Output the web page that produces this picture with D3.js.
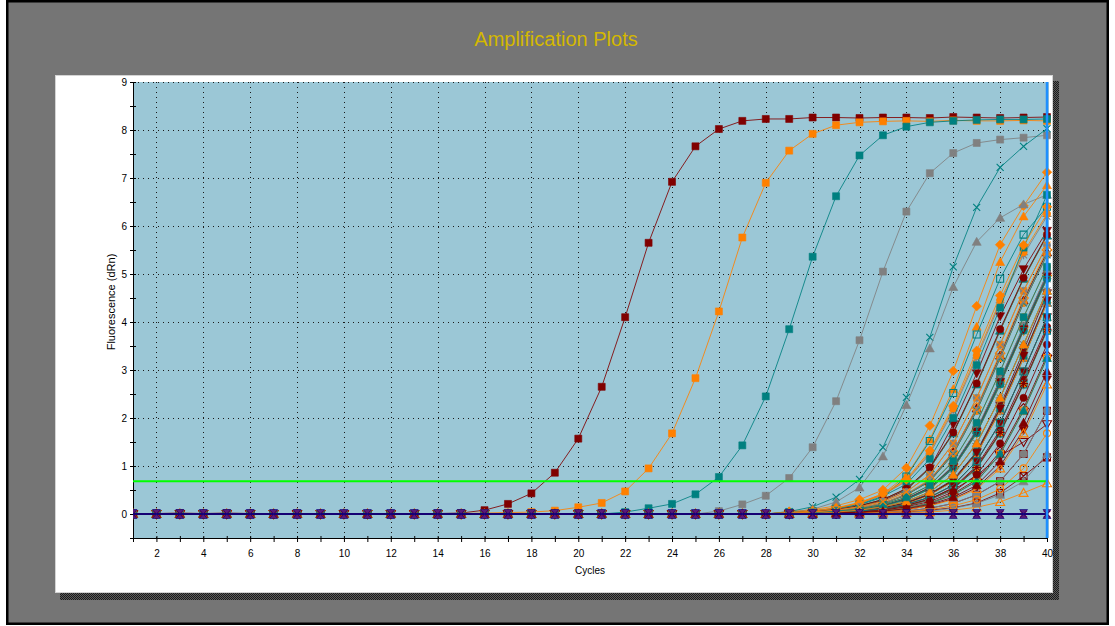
<!DOCTYPE html>
<html>
<head>
<meta charset="utf-8">
<script src="https://cdn.jsdelivr.net/npm/d3@7"></script>
<style>
html, body { margin: 0; padding: 0; background: #ffffff; }
svg { display: block; font-family: "Liberation Sans", Arial, sans-serif; }
</style>
</head>
<body>
<svg id="chart" width="1115" height="626"></svg>
<script>
// ---- data -------------------------------------------------------------
const cycles = [1,2,3,4,5,6,7,8,9,10,11,12,13,14,15,16,17,18,19,20,21,22,23,24,25,26,27,28,29,30,31,32,33,34,35,36,37,38,39,40];
const yTickValues = [0,1,2,3,4,5,6,7,8,9];
const xLabelCycles = [2,4,6,8,10,12,14,16,18,20,22,24,26,28,30,32,34,36,38,40];
const thresholdValue = 0.68;

// fluorescence (dRn) per cycle, one row per well
const darkRedWells = [
  [0.01,0.01,0.02,0.01,0.02,0.01,0,0.01,0,0,-0.01,0,0,0.01,0.02,0.08,0.21,0.43,0.86,1.57,2.65,4.1,5.65,6.92,7.66,8.02,8.19,8.23,8.23,8.26,8.26,8.25,8.26,8.26,8.25,8.27,8.26,8.25,8.26,8.27],
  [0,0,0,0,0,0,0,0,0,0,0,0,0,0,0,0,0,0,0,0,0,0,0,0,0,0,0,0,0.02,0.04,0.08,0.15,0.28,0.5,0.95,1.87,2.93,4.12,5.1,5.9],
  [0,0,0,0,0,0,0,0,0,0,0,0,0,0,0,0,0,0,0,0,0,0,0,0,0,0,0,0,0,0.02,0.05,0.09,0.17,0.3,0.55,1.0,1.75,2.8,3.9,5.0],
  [0,0,0,0,0,0,0,0,0,0,0,0,0,0,0,0,0,0,0,0,0,0,0,0,0,0,0,0,0,0.01,0.03,0.06,0.12,0.24,0.42,0.72,1.3,2.25,3.4,4.6],
  [0,0,0,0,0,0,0,0,0,0,0,0,0,0,0,0,0,0,0,0,0,0,0,0,0,0,0,0,0,0,0.02,0.05,0.09,0.18,0.31,0.55,1.0,1.75,2.8,3.9],
  [0,0,0,0,0,0,0,0,0,0,0,0,0,0,0,0,0,0,0,0,0,0,0,0,0,0,0,0,0.01,0.03,0.06,0.12,0.22,0.4,0.7,1.3,2.2,3.3,4.45,5.45],
  [0,0,0,0,0,0,0,0,0,0,0,0,0,0,0,0,0,0,0,0,0,0,0,0,0,0,0,0,0,0,0.01,0.03,0.06,0.12,0.23,0.42,0.72,1.3,2.2,3.3],
  [0,0,0,0,0,0,0,0,0,0,0,0,0,0,0,0,0,0,0,0,0,0,0,0,0,0,0,0,0,0,0,0.02,0.05,0.09,0.18,0.32,0.55,1.0,1.75,2.8],
  [0,0,0,0,0,0,0,0,0,0,0,0,0,0,0,0,0,0,0,0,0,0,0,0,0,0,0,0,0,0,0.01,0.03,0.08,0.16,0.3,0.5,0.8,1.21,1.5,1.87],
  [0,0,0,0,0,0,0,0,0,0,0,0,0,0,0,0,0,0,0,0,0,0,0,0,0,0,0,0,0,0,0,0.01,0.02,0.04,0.08,0.13,0.23,0.44,0.79,1.18],
  [0,0,0,0,0,0,0,0,0,0,0,0,0,0,0,0,0,0,0,0,0,0,0,0,0,0,0,0,0,0.01,0.03,0.07,0.13,0.23,0.41,0.7,1.28,2.2,3.3,4.45],
  [0,0,0,0,0,0,0,0,0,0,0,0,0,0,0,0,0,0,0,0,0,0,0,0,0,0,0,0,0,0,0,0.01,0.03,0.06,0.12,0.22,0.4,0.68,1.25,2.15],
  [0,0,0,0,0,0,0,0,0,0,0,0,0,0,0,0,0,0,0,0,0,0,0,0,0,0,0,0,0,0.02,0.05,0.1,0.18,0.32,0.55,0.98,1.72,2.75,3.85,4.95],
  [0,0,0,0,0,0,0,0,0,0,0,0,0,0,0,0,0,0,0,0,0,0,0,0,0,0,0,0,0,0,0.02,0.05,0.1,0.18,0.31,0.54,0.97,1.7,2.72,3.85],
  [0,0,0,0,0,0,0,0,0,0,0,0,0,0,0,0,0,0,0,0,0,0,0,0,0,0,0,0,0.02,0.05,0.09,0.17,0.3,0.53,0.97,1.7,2.72,3.85,4.92,5.82],
  [0,0,0,0,0,0,0,0,0,0,0,0,0,0,0,0,0,0,0,0,0,0,0,0,0,0,0,0,0,0.01,0.03,0.06,0.11,0.2,0.35,0.6,1.1,1.9,2.97,4.1],
  [0,0,0,0,0,0,0,0,0,0,0,0,0,0,0,0,0,0,0,0,0,0,0,0,0,0,0,0,0,0,0.02,0.04,0.08,0.15,0.26,0.46,0.82,1.47,2.42,3.53],
  [0,0,0,0,0,0,0,0,0,0,0,0,0,0,0,0,0,0,0,0,0,0,0,0,0,0,0,0,0,0,0.01,0.03,0.06,0.11,0.2,0.35,0.6,1.1,1.9,2.97]
];
const orangeWells = [
  [0,0,0.01,0,0.01,0,-0.01,0,0,0,0,0,0,0,0.01,0.02,0.03,0.04,0.07,0.14,0.23,0.47,0.95,1.68,2.83,4.22,5.76,6.9,7.57,7.92,8.1,8.16,8.18,8.19,8.18,8.2,8.19,8.19,8.2,8.19],
  [0,0,0,0,0,0,0,0,0,0,0,0,0,0,0,0,0,0,0,0,0,0,0,0,0,0,0,0,0.05,0.09,0.17,0.3,0.5,0.96,1.84,2.98,4.33,5.61,6.42,7.12],
  [0,0,0,0,0,0,0,0,0,0,0,0,0,0,0,0,0,0,0,0,0,0,0,0,0,0,0,0,0.04,0.07,0.13,0.24,0.42,0.8,1.55,2.6,3.9,5.25,6.2,6.85],
  [0,0,0,0,0,0,0,0,0,0,0,0,0,0,0,0,0,0,0,0,0,0,0,0,0,0,0,0,0.03,0.06,0.12,0.22,0.4,0.7,1.28,2.2,3.3,4.45,5.45,6.25],
  [0,0,0,0,0,0,0,0,0,0,0,0,0,0,0,0,0,0,0,0,0,0,0,0,0,0,0,0,0,0,0,0,0.01,0.02,0.04,0.08,0.14,0.25,0.44,0.64],
  [0,0,0,0,0,0,0,0,0,0,0,0,0,0,0,0,0,0,0,0,0,0,0,0,0,0,0,0,0.02,0.05,0.09,0.17,0.3,0.52,0.95,1.68,2.7,3.82,4.9,5.8],
  [0,0,0,0,0,0,0,0,0,0,0,0,0,0,0,0,0,0,0,0,0,0,0,0,0,0,0,0,0.01,0.03,0.06,0.12,0.22,0.4,0.68,1.25,2.15,3.25,4.4,5.4],
  [0,0,0,0,0,0,0,0,0,0,0,0,0,0,0,0,0,0,0,0,0,0,0,0,0,0,0,0,0.01,0.03,0.06,0.13,0.23,0.42,0.72,1.3,2.22,3.35,4.5,5.5],
  [0,0,0,0,0,0,0,0,0,0,0,0,0,0,0,0,0,0,0,0,0,0,0,0,0,0,0,0,0,0.02,0.05,0.09,0.17,0.3,0.52,0.95,1.68,2.7,3.82,4.9],
  [0,0,0,0,0,0,0,0,0,0,0,0,0,0,0,0,0,0,0,0,0,0,0,0,0,0,0,0,0,0.01,0.03,0.06,0.12,0.22,0.4,0.68,1.25,2.15,3.25,4.4],
  [0,0,0,0,0,0,0,0,0,0,0,0,0,0,0,0,0,0,0,0,0,0,0,0,0,0,0,0,0,0,0.02,0.05,0.09,0.17,0.3,0.52,0.95,1.68,2.7,3.82],
  [0,0,0,0,0,0,0,0,0,0,0,0,0,0,0,0,0,0,0,0,0,0,0,0,0,0,0,0,0,0,0.01,0.03,0.06,0.12,0.22,0.4,0.68,1.25,2.15,3.25],
  [0,0,0,0,0,0,0,0,0,0,0,0,0,0,0,0,0,0,0,0,0,0,0,0,0,0,0,0,0,0,0,0.02,0.05,0.09,0.17,0.3,0.52,0.95,1.68,2.7],
  [0,0,0,0,0,0,0,0,0,0,0,0,0,0,0,0,0,0,0,0,0,0,0,0,0,0,0,0,0,0,0,0,0.02,0.05,0.09,0.17,0.3,0.52,0.95,1.68],
  [0,0,0,0,0,0,0,0,0,0,0,0,0,0,0,0,0,0,0,0,0,0,0,0,0,0,0,0,0.03,0.06,0.12,0.23,0.42,0.72,1.32,2.25,3.4,4.55,5.6,6.4],
  [0,0,0,0,0,0,0,0,0,0,0,0,0,0,0,0,0,0,0,0,0,0,0,0,0,0,0,0,0.01,0.03,0.06,0.11,0.2,0.35,0.6,1.1,1.9,2.97,4.1,5.15],
  [0,0,0,0,0,0,0,0,0,0,0,0,0,0,0,0,0,0,0,0,0,0,0,0,0,0,0,0,0,0.02,0.04,0.08,0.15,0.26,0.46,0.82,1.47,2.42,3.53,4.65],
  [0,0,0,0,0,0,0,0,0,0,0,0,0,0,0,0,0,0,0,0,0,0,0,0,0,0,0,0,0.02,0.04,0.08,0.15,0.26,0.46,0.82,1.47,2.42,3.53,4.65,5.6]
];
const tealWells = [
  [0,0,0,0,0,0,0,0,0,0,0,0,0,0,0,0,0,0,0,0,0,0.04,0.12,0.21,0.41,0.77,1.43,2.45,3.85,5.36,6.62,7.47,7.89,8.07,8.16,8.19,8.21,8.22,8.22,8.23],
  [0,0,0,0,0,0,0,0,0,0,0,0,0,0,0,0,0,0,0,0,0,0,0,0,0,0,0,0,0.05,0.15,0.35,0.72,1.39,2.43,3.68,5.15,6.39,7.22,7.66,8.03],
  [0,0,0,0,0,0,0,0,0,0,0,0,0,0,0,0,0,0,0,0,0,0,0,0,0,0,0,0,0.03,0.05,0.1,0.19,0.35,0.78,1.52,2.52,3.74,4.9,5.82,6.4],
  [0,0,0,0,0,0,0,0,0,0,0,0,0,0,0,0,0,0,0,0,0,0,0,0,0,0,0,0,0.03,0.06,0.11,0.2,0.37,0.62,1.15,2.0,3.1,4.3,5.55,6.65],
  [0,0,0,0,0,0,0,0,0,0,0,0,0,0,0,0,0,0,0,0,0,0,0,0,0,0,0,0,0.01,0.03,0.06,0.12,0.22,0.4,0.7,1.28,2.2,3.3,4.45,5.45],
  [0,0,0,0,0,0,0,0,0,0,0,0,0,0,0,0,0,0,0,0,0,0,0,0,0,0,0,0,0,0.02,0.05,0.09,0.17,0.3,0.53,0.96,1.7,2.72,3.85,4.92],
  [0,0,0,0,0,0,0,0,0,0,0,0,0,0,0,0,0,0,0,0,0,0,0,0,0,0,0,0,0.01,0.03,0.06,0.12,0.22,0.4,0.68,1.25,2.15,3.25,4.4,5.4],
  [0,0,0,0,0,0,0,0,0,0,0,0,0,0,0,0,0,0,0,0,0,0,0,0,0,0,0,0,0,0.01,0.03,0.06,0.12,0.22,0.4,0.68,1.25,2.15,3.25,4.4],
  [0,0,0,0,0,0,0,0,0,0,0,0,0,0,0,0,0,0,0,0,0,0,0,0,0,0,0,0,0,0.02,0.05,0.09,0.17,0.3,0.52,0.95,1.68,2.7,3.82,4.9],
  [0,0,0,0,0,0,0,0,0,0,0,0,0,0,0,0,0,0,0,0,0,0,0,0,0,0,0,0,0,0.01,0.03,0.06,0.12,0.23,0.42,0.7,1.3,2.2,3.3,4.45],
  [0,0,0,0,0,0,0,0,0,0,0,0,0,0,0,0,0,0,0,0,0,0,0,0,0,0,0,0,0,0,0.02,0.05,0.09,0.17,0.3,0.52,0.95,1.68,2.7,3.82],
  [0,0,0,0,0,0,0,0,0,0,0,0,0,0,0,0,0,0,0,0,0,0,0,0,0,0,0,0,0,0,0.01,0.03,0.06,0.12,0.22,0.4,0.68,1.25,2.15,3.25],
  [0,0,0,0,0,0,0,0,0,0,0,0,0,0,0,0,0,0,0,0,0,0,0,0,0,0,0,0,0.02,0.05,0.09,0.17,0.3,0.52,0.95,1.68,2.7,3.82,4.9,5.8],
  [0,0,0,0,0,0,0,0,0,0,0,0,0,0,0,0,0,0,0,0,0,0,0,0,0,0,0,0,0,0.02,0.05,0.09,0.18,0.31,0.54,0.98,1.72,2.75,3.88,4.95],
  [0,0,0,0,0,0,0,0,0,0,0,0,0,0,0,0,0,0,0,0,0,0,0,0,0,0,0,0,0,0.02,0.04,0.08,0.15,0.26,0.46,0.82,1.47,2.42,3.53,4.65],
  [0,0,0,0,0,0,0,0,0,0,0,0,0,0,0,0,0,0,0,0,0,0,0,0,0,0,0,0,0,0.01,0.03,0.06,0.11,0.2,0.35,0.6,1.1,1.9,2.97,4.1],
  [0,0,0,0,0,0,0,0,0,0,0,0,0,0,0,0,0,0,0,0,0,0,0,0,0,0,0,0,0.01,0.03,0.06,0.11,0.2,0.35,0.6,1.1,1.9,2.97,4.1,5.15]
];
const grayWells = [
  [0,0,0,0,0,0,0,0,0,0,0,0,0,0,0,0,0,0,0,0,0,0,0,0,0,0.06,0.2,0.38,0.75,1.39,2.35,3.62,5.05,6.3,7.1,7.52,7.73,7.8,7.84,7.89],
  [0,0,0,0,0,0,0,0,0,0,0,0,0,0,0,0,0,0,0,0,0,0,0,0,0,0,0,0,0.03,0.1,0.25,0.55,1.2,2.27,3.45,4.73,5.67,6.17,6.45,6.65],
  [0,0,0,0,0,0,0,0,0,0,0,0,0,0,0,0,0,0,0,0,0,0,0,0,0,0,0,0,0.03,0.06,0.12,0.22,0.4,0.68,1.25,2.15,3.25,4.4,5.4,6.2],
  [0,0,0,0,0,0,0,0,0,0,0,0,0,0,0,0,0,0,0,0,0,0,0,0,0,0,0,0,0.02,0.05,0.09,0.17,0.3,0.52,0.95,1.68,2.7,3.82,4.9,5.8],
  [0,0,0,0,0,0,0,0,0,0,0,0,0,0,0,0,0,0,0,0,0,0,0,0,0,0,0,0,0.01,0.03,0.06,0.12,0.22,0.4,0.68,1.25,2.15,3.25,4.4,5.4],
  [0,0,0,0,0,0,0,0,0,0,0,0,0,0,0,0,0,0,0,0,0,0,0,0,0,0,0,0,0,0.02,0.05,0.09,0.17,0.3,0.52,0.95,1.68,2.7,3.82,4.9],
  [0,0,0,0,0,0,0,0,0,0,0,0,0,0,0,0,0,0,0,0,0,0,0,0,0,0,0,0,0,0.02,0.05,0.1,0.18,0.32,0.56,1.0,1.76,2.8,3.92,5.0],
  [0,0,0,0,0,0,0,0,0,0,0,0,0,0,0,0,0,0,0,0,0,0,0,0,0,0,0,0,0,0.01,0.03,0.06,0.12,0.22,0.4,0.68,1.25,2.15,3.25,4.4],
  [0,0,0,0,0,0,0,0,0,0,0,0,0,0,0,0,0,0,0,0,0,0,0,0,0,0,0,0,0,0,0.02,0.05,0.09,0.17,0.3,0.52,0.95,1.68,2.7,3.82],
  [0,0,0,0,0,0,0,0,0,0,0,0,0,0,0,0,0,0,0,0,0,0,0,0,0,0,0,0,0,0,0.01,0.03,0.06,0.12,0.22,0.4,0.68,1.25,2.15,3.25],
  [0,0,0,0,0,0,0,0,0,0,0,0,0,0,0,0,0,0,0,0,0,0,0,0,0,0,0,0,0.01,0.03,0.06,0.12,0.22,0.41,0.7,1.27,2.18,3.28,4.42,5.42],
  [0,0,0,0,0,0,0,0,0,0,0,0,0,0,0,0,0,0,0,0,0,0,0,0,0,0,0,0,0,0,0,0.01,0.03,0.06,0.12,0.22,0.4,0.68,1.25,2.15],
  [0,0,0,0,0,0,0,0,0,0,0,0,0,0,0,0,0,0,0,0,0,0,0,0,0,0,0,0,0,0,0,0,0.01,0.03,0.06,0.12,0.22,0.4,0.68,1.25],
  [0,0,0,0,0,0,0,0,0,0,0,0,0,0,0,0,0,0,0,0,0,0,0,0,0,0,0,0,0,0.02,0.04,0.08,0.15,0.26,0.46,0.82,1.47,2.42,3.53,4.65],
  [0,0,0,0,0,0,0,0,0,0,0,0,0,0,0,0,0,0,0,0,0,0,0,0,0,0,0,0,0,0.01,0.03,0.06,0.11,0.2,0.35,0.6,1.1,1.9,2.97,4.1],
  [0,0,0,0,0,0,0,0,0,0,0,0,0,0,0,0,0,0,0,0,0,0,0,0,0,0,0,0,0.02,0.04,0.08,0.15,0.26,0.46,0.82,1.47,2.42,3.53,4.65,5.6]
];
// no-template controls stay on the baseline
const ntcWells = [
  [0,0,0,0,0,0,0,0,0,0,0,0,0,0,0,0,0,0,0,0,0,0,0,0,0,0,0,0,0,0,0,0,0,0,0,0,0,0,0,0],
  [0,0,0,0,0,0,0,0,0,0,0,0,0,0,0,0,0,0,0,0,0,0,0,0,0,0,0,0,0,0,0,0,0,0,0,0,0,0,0,0]
];

// ---- styles -----------------------------------------------------------
const darkRedMarkers = ["square","triDown","squareX","triDown","circle","triUp","diamondOpen","triDown","triDownOpen","squareX","triDown","squareOpen","triDown","star","circle","triDown","circle","triUp"];
const orangeMarkers  = ["square","diamond","triUp","circle","triUpOpen","x","circle","diamondOpen","triDownOpen","star","circle","squareOpen","triUpOpen","circleOpen","diamond","circle","triUp","x"];
const tealMarkers    = ["square","x","squareOpen","square","triUp","square","x","triUp","circle","square","squareOpen","triUp","triUp","plus","triUp","squareOpen","square"];
const grayMarkers    = ["square","triUp","star","triUp","circle","star","square","triUp","diamond","star","x","circle","triUp","star","triUp","circle"];
const ntcMarkers     = ["x","hourglass"];
const palette = { darkRed: "#800000", orange: "#ff8000", teal: "#008080", gray: "#808080", ntcA: "#8b0030", ntcB: "#000080" };

// ---- layout -----------------------------------------------------------
const plot = { left: 133, right: 1047, top: 82, bottom: 538 };

const svg = d3.select("#chart");
const defs = svg.append("defs");

// dithered drop shadow of the white panel
const pat = defs.append("pattern").attr("id", "dither").attr("width", 2).attr("height", 2)
  .attr("patternUnits", "userSpaceOnUse");
pat.append("rect").attr("width", 2).attr("height", 2).attr("fill", "#5c5c5c");
pat.append("rect").attr("width", 1).attr("height", 1).attr("fill", "#1c1c1c");
pat.append("rect").attr("x", 1).attr("y", 1).attr("width", 1).attr("height", 1).attr("fill", "#1c1c1c");

defs.append("clipPath").attr("id", "plotClip").append("rect")
  .attr("x", plot.left).attr("y", plot.top - 6)
  .attr("width", plot.right - plot.left + 6).attr("height", plot.bottom - plot.top + 6);

// outer frame
svg.append("rect").attr("x", 7.25).attr("y", 1.25).attr("width", 1100.5).attr("height", 622.5)
  .attr("fill", "#757575").attr("stroke", "#000").attr("stroke-width", 2.5);

svg.append("text").attr("x", 556).attr("y", 46).attr("text-anchor", "middle")
  .attr("font-size", 20).attr("fill", "#d4b800").text("Amplification Plots");

// white panel + shadow
svg.append("rect").attr("x", 60).attr("y", 81).attr("width", 999).attr("height", 519).attr("fill", "url(#dither)");
svg.append("rect").attr("x", 55.5).attr("y", 75.5).attr("width", 997).attr("height", 517)
  .attr("fill", "#ffffff").attr("stroke", "#d4d4d4").attr("stroke-width", 1);

// ---- scales -----------------------------------------------------------
const x = d3.scaleLinear().domain([1, 40]).range([plot.left, plot.right]);
const y = d3.scaleLinear().domain([-0.5, 9]).range([plot.bottom, plot.top]);

svg.append("rect").attr("x", plot.left).attr("y", plot.top)
  .attr("width", plot.right - plot.left + 2).attr("height", plot.bottom - plot.top)
  .attr("fill", "#9bc7d6");

// dotted grid
const grid = svg.append("g").attr("stroke", "#1a1a1a").attr("stroke-width", 1)
  .attr("stroke-dasharray", "1,4").attr("shape-rendering", "crispEdges");
grid.selectAll("line.h").data(yTickValues).join("line").attr("class", "h")
  .attr("x1", plot.left).attr("x2", plot.right)
  .attr("y1", d => Math.round(y(d)) + 0.5).attr("y2", d => Math.round(y(d)) + 0.5);
grid.selectAll("line.v").data(xLabelCycles.filter(c => c < 40)).join("line").attr("class", "v")
  .attr("y1", plot.top).attr("y2", plot.bottom)
  .attr("x1", d => Math.round(x(d)) + 0.5).attr("x2", d => Math.round(x(d)) + 0.5);

// ---- axes -------------------------------------------------------------
const halfSteps = d3.range(-0.5, 9.01, 0.5);
const yAxis = svg.append("g").attr("transform", `translate(${plot.left},0)`)
  .call(d3.axisLeft(y).tickValues(halfSteps).tickSizeInner(3).tickSizeOuter(0).tickPadding(3)
    .tickFormat(d => Number.isInteger(d) && d >= 0 ? d : ""));
yAxis.selectAll(".tick line").attr("x1", 3);
yAxis.selectAll("text").attr("font-size", 10).attr("font-family", "Liberation Sans, Arial, sans-serif").attr("fill", "#000");
yAxis.select(".domain").attr("stroke", "#000");

const xAxis = svg.append("g").attr("transform", `translate(0,${plot.bottom})`)
  .call(d3.axisBottom(x).tickValues(cycles).tickSizeInner(4).tickSizeOuter(0).tickPadding(8)
    .tickFormat(d => xLabelCycles.includes(d) ? d : ""));
xAxis.selectAll(".tick line").attr("y1", -2);
xAxis.selectAll("text").attr("font-size", 10).attr("font-family", "Liberation Sans, Arial, sans-serif").attr("fill", "#000");
xAxis.select(".domain").attr("stroke", "#000");

svg.append("text").attr("x", (plot.left + plot.right) / 2).attr("y", 574).attr("text-anchor", "middle")
  .attr("font-size", 10).attr("fill", "#000").text("Cycles");
svg.append("text").attr("transform", "translate(115,302) rotate(-90)")
  .attr("text-anchor", "middle").attr("font-size", 11).attr("fill", "#000").text("Fluorescence (dRn)");

// ---- markers ----------------------------------------------------------
const shapePaths = {
  square: "M-3.5,-3.5h7v7h-7z",
  squareOpen: "M-3.5,-3.5h7v7h-7z",
  squareX: "M-3.5,-3.5h7v7h-7zM-3.5,-3.5L3.5,3.5M3.5,-3.5L-3.5,3.5",
  triUp: "M0,-4.5L4.5,3.5L-4.5,3.5Z",
  triUpOpen: "M0,-4.5L4.5,3.5L-4.5,3.5Z",
  triDown: "M0,4.5L4.5,-3.5L-4.5,-3.5Z",
  triDownOpen: "M0,4.5L4.5,-3.5L-4.5,-3.5Z",
  diamond: "M0,-4.8L4.8,0L0,4.8L-4.8,0Z",
  diamondOpen: "M0,-4.8L4.8,0L0,4.8L-4.8,0Z",
  circle: d3.symbol(d3.symbolCircle, 42)(),
  circleOpen: d3.symbol(d3.symbolCircle, 38)(),
  x: "M-3.5,-3.5L3.5,3.5M3.5,-3.5L-3.5,3.5",
  plus: "M-4,0H4M0,-4V4",
  star: "M-3.5,-3.5L3.5,3.5M3.5,-3.5L-3.5,3.5M-4.5,0H4.5M0,-4.5V4.5",
  hourglass: "M-4,-4.5H4L-4,4.5H4Z"
};
const filledKinds = new Set(["square","triUp","triDown","diamond","circle","hourglass"]);

// draw order: wells interleaved across the four colour groups
const groups = [
  { rows: darkRedWells, marks: darkRedMarkers, color: palette.darkRed },
  { rows: orangeWells,  marks: orangeMarkers,  color: palette.orange },
  { rows: tealWells,    marks: tealMarkers,    color: palette.teal },
  { rows: grayWells,    marks: grayMarkers,    color: palette.gray }
];
const wells = [];
const maxRows = d3.max(groups, g => g.rows.length);
for (let i = 0; i < maxRows; i++) {
  groups.forEach(g => {
    if (i < g.rows.length) wells.push({ values: g.rows[i], marker: g.marks[i], color: g.color, width: 1 });
  });
}
ntcWells.forEach((row, i) => wells.push({
  values: row, marker: ntcMarkers[i], color: i === 0 ? palette.ntcA : palette.ntcB, width: 2,
  fill: i === 0 ? null : "#5a1a78"
}));

const line = d3.line().x((d, i) => x(cycles[i])).y(d => y(d));
const layer = svg.append("g").attr("clip-path", "url(#plotClip)");

wells.forEach(w => {
  const g = layer.append("g");
  g.append("path").attr("d", line(w.values)).attr("fill", "none")
    .attr("stroke", w.color).attr("stroke-width", w.width).attr("stroke-opacity", 0.85);
  const filled = filledKinds.has(w.marker);
  g.selectAll("path.m").data(w.values).join("path").attr("class", "m")
    .attr("transform", (d, i) => `translate(${x(cycles[i])},${y(d)})`)
    .attr("d", shapePaths[w.marker])
    .attr("fill", filled ? (w.fill || w.color) : "none")
    .attr("stroke", w.color)
    .attr("stroke-width", filled ? 0.6 : 1.1);
});

// threshold and end-of-run cursor
svg.append("line").attr("x1", plot.left).attr("x2", plot.right)
  .attr("y1", y(thresholdValue)).attr("y2", y(thresholdValue))
  .attr("stroke", "#00ff00").attr("stroke-width", 2);
svg.append("line").attr("x1", x(40)).attr("x2", x(40))
  .attr("y1", plot.top).attr("y2", plot.bottom)
  .attr("stroke", "#1e8fff").attr("stroke-width", 2.5);
</script>
</body>
</html>
